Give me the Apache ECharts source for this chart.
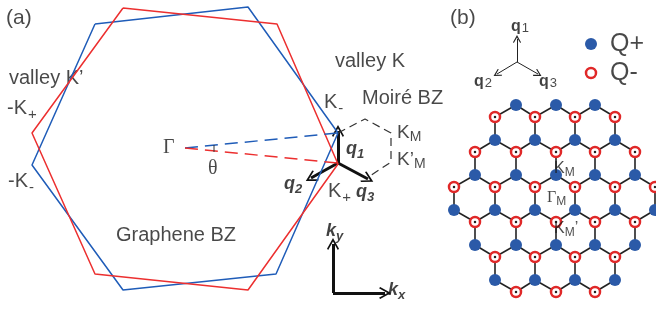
<!DOCTYPE html>
<html>
<head>
<meta charset="utf-8">
<script src="https://cdn.jsdelivr.net/npm/echarts@6/dist/echarts.min.js"></script>
<style>
  html, body { margin: 0; padding: 0; background: #fff; }
  #chart { width: 656px; height: 310px; }
</style>
</head>
<body>
<div id="chart"></div>
<script>
// ---- data (diagram coordinates, y grows downward) ----
const blueHex = [[95, 24], [248, 7], [338, 133], [276, 274], [123, 290], [32, 165]]
const redHex = [[123, 8], [277, 24], [338, 164], [248, 290], [95, 274], [32, 133]]
const gammaPt = [185, 148]
const kMinus = [338, 133]
const kPlus = [338, 163]
const moireDashed = [[338, 133], [365, 119], [391, 133], [391, 162], [367, 178]]
const qArrowsA = [[[338, 163], [338, 131]], [[338, 163], [311, 178]], [[338, 163], [368, 179]]]
const kAxes = [[[333, 293], [333, 244]], [[333, 293], [385, 293]]]
const thetaMark = [[214, 145], [214, 152]]
const qArrowsB = [[[517, 62], [517, 39]], [[517, 62], [497, 74]], [[517, 62], [538, 74]]]

// honeycomb lattice rows: y -> x list
const blueRows = [
  [105, [516, 556, 595]],
  [140, [495, 535, 575, 615]],
  [175, [475, 516, 556, 595, 635]],
  [210, [454, 495, 535, 575, 615, 655]],
  [245, [475, 516, 556, 595, 635]],
  [280, [495, 535, 575, 615]]
]
const redRows = [
  [117, [495, 535, 575, 615]],
  [152, [475, 516, 556, 595, 635]],
  [187, [454, 495, 535, 575, 615, 655]],
  [222, [475, 516, 556, 595, 635]],
  [257, [495, 535, 575, 615]],
  [292, [516, 556, 595]]
]
const legendBlue = [591, 44]
const legendRed = [591, 73]

// text annotations: [text (rich), x, y]
const annotations = [
  ['{t|(a)}', 6, 18],
  ['{n|valley K’}', 9, 78],
  ['{n|-K}{s|+}', 7, 108],
  ['{n|-K}{s|-}', 8, 181],
  ['{g|Γ}', 163, 148],
  ['{g|θ}', 208, 169],
  ['{n|Graphene BZ}', 116, 235],
  ['{n|valley K}', 335, 61],
  ['{n|K}{s|-}', 324, 102],
  ['{n|Moiré BZ}', 362, 98],
  ['{k|K}{ks|M}', 397, 133],
  ['{k|K’}{ks|M}', 397, 160],
  ['{q|q}{qs|1}', 346, 149],
  ['{q|q}{qs|2}', 284, 184],
  ['{n|K}{s|+}', 328, 191],
  ['{q|q}{qs|3}', 356, 192],
  ['{q|k}{qs|y}', 326, 231],
  ['{q|k}{qs|x}', 388, 290],
  ['{t|(b)}', 450, 18],
  ['{b|q}{bs|1}', 511, 27],
  ['{b|q}{bs|2}', 474, 82],
  ['{b|q}{bs|3}', 539, 82],
  ['{Q|Q+}', 610, 44],
  ['{Q|Q-}', 610, 73],
  ['{m|K}{ms|M}', 554, 169],
  ['{gm|Γ}{ms|M}', 547, 198],
  ['{m|K}{ms|M}{m|’}', 554, 229]
]

const blueDots = []
blueRows.forEach(([y, xs]) => xs.forEach(x => blueDots.push([x, y])))
const redDots = []
redRows.forEach(([y, xs]) => xs.forEach(x => redDots.push([x, y])))

// bonds: join each red site to blue sites at nearest-neighbour distance
const bonds = []
redDots.forEach(r => {
  blueDots.forEach(b => {
    const d = Math.hypot(r[0] - b[0], r[1] - b[1])
    if (d < 28) bonds.push({ coords: [r, b] })
  })
})

const chevron = 'path://M0,0 L7,9 L5.6,10 L0,3 L-5.6,10 L-7,9 Z'
const font = '"Liberation Sans", Arial, sans-serif'
const serif = '"Liberation Serif", "Times New Roman", serif'
const ink = '#1a1a1a'

const rich = {
  t: { fontFamily: font, fontSize: 21, color: ink },
  n: { fontFamily: font, fontSize: 20, color: ink },
  s: { fontFamily: font, fontSize: 15, color: ink, padding: [13, 0, 0, 1] },
  k: { fontFamily: font, fontSize: 19, color: ink },
  ks: { fontFamily: font, fontSize: 14, color: ink, padding: [9, 0, 0, 0] },
  g: { fontFamily: serif, fontSize: 20, color: ink },
  q: { fontFamily: font, fontSize: 18, fontWeight: 'bold', fontStyle: 'italic', color: '#111' },
  qs: { fontFamily: font, fontSize: 13, fontWeight: 'bold', fontStyle: 'italic', color: '#111', padding: [10, 0, 0, 0] },
  b: { fontFamily: font, fontSize: 16, fontWeight: 'bold', color: '#111' },
  bs: { fontFamily: font, fontSize: 13, color: ink, padding: [3, 0, 0, 1] },
  Q: { fontFamily: font, fontSize: 25, color: ink },
  m: { fontFamily: font, fontSize: 16, color: ink },
  gm: { fontFamily: serif, fontSize: 16, color: ink },
  ms: { fontFamily: font, fontSize: 12, color: ink, padding: [7, 0, 0, 0] }
}

const chart = echarts.init(document.getElementById('chart'))

const option = {
  animation: false,
  grid: { left: 0, right: 0, top: 0, bottom: 0 },
  xAxis: { type: 'value', min: 0, max: 656, show: false },
  yAxis: { type: 'value', min: 0, max: 310, inverse: true, show: false },
  series: [
    {
      type: 'line', data: [...blueHex, blueHex[0]], symbol: 'none',
      lineStyle: { color: '#1f5cb8', width: 1.5 }
    },
    {
      type: 'line', data: [...redHex, redHex[0]], symbol: 'none',
      lineStyle: { color: '#ec2f2f', width: 1.5 }
    },
    {
      type: 'line', data: [gammaPt, kMinus], symbol: 'none',
      lineStyle: { color: '#1f5cb8', width: 1.5, type: [13, 7] }
    },
    {
      type: 'line', data: [gammaPt, kPlus], symbol: 'none',
      lineStyle: { color: '#ec2f2f', width: 1.5, type: [13, 7] }
    },
    {
      type: 'line', data: thetaMark, symbol: 'none',
      lineStyle: { color: '#333', width: 1 }
    },
    {
      type: 'line', data: moireDashed, symbol: 'none',
      lineStyle: { color: '#333', width: 1.2, type: [8, 5] }
    },
    {
      type: 'lines', coordinateSystem: 'cartesian2d',
      data: qArrowsA.concat(kAxes).map(c => ({ coords: c })),
      symbol: ['none', chevron], symbolSize: [16, 12],
      lineStyle: { color: '#111', width: 3, opacity: 1 }
    },
    {
      type: 'lines', coordinateSystem: 'cartesian2d', data: bonds,
      lineStyle: { color: '#222', width: 1.6, opacity: 1 }
    },
    {
      type: 'lines', coordinateSystem: 'cartesian2d',
      data: qArrowsB.map(c => ({ coords: c })),
      symbol: ['none', chevron], symbolSize: [11, 8],
      lineStyle: { color: '#222', width: 1, opacity: 1 }
    },
    {
      type: 'scatter', data: [...blueDots, legendBlue], symbolSize: 12,
      itemStyle: { color: '#2b5aa8', opacity: 1 }
    },
    {
      type: 'scatter', data: [...redDots, legendRed], symbolSize: 10,
      itemStyle: { color: '#fff', borderColor: '#e02828', borderWidth: 2.5, opacity: 1 }
    },
    {
      type: 'scatter', data: redDots, symbolSize: 2.5,
      itemStyle: { color: '#222', opacity: 1 }
    },
    {
      type: 'scatter', symbolSize: 0, silent: true,
      data: annotations.map(a => ({
        value: [a[1], a[2]],
        label: { show: true, position: 'right', distance: 0, formatter: a[0], rich: rich }
      }))
    }
  ]
}

chart.setOption(option)
</script>
</body>
</html>
